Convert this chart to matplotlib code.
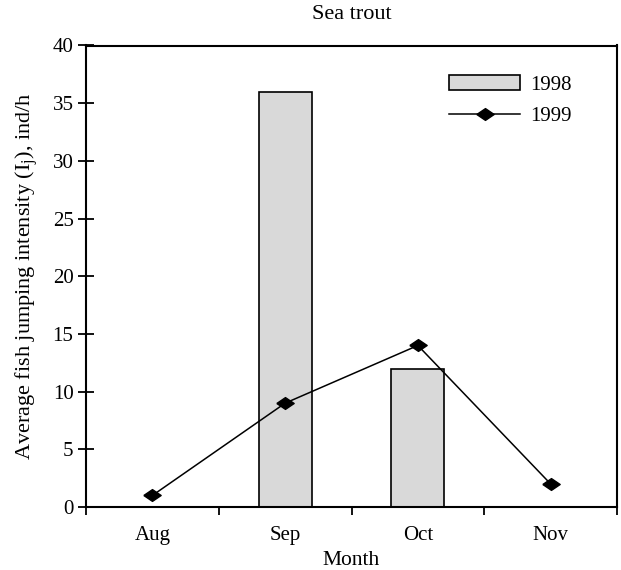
import numpy as np
import matplotlib.pyplot as plt
from matplotlib.ticker import FixedLocator, NullFormatter, FixedFormatter

plt.rcParams['font.family'] = ['Liberation Serif', 'DejaVu Serif']
plt.rcParams['mathtext.fontset'] = 'custom'
plt.rcParams['mathtext.rm'] = 'Liberation Serif'
plt.rcParams['mathtext.it'] = 'Liberation Serif:italic'

# monthly jumping intensity, ind/h
months = ['Aug', 'Sep', 'Oct', 'Nov']
year_1998 = [0, 36, 12, 0]
year_1999 = [1, 9, 14, 2]

x = np.arange(len(months))

# flattened diamond marker
diamond = [(-1, 0), (0, 0.68), (1, 0), (0, -0.68), (-1, 0)]

fig = plt.figure(figsize=(6.21, 5.70), dpi=100)
ax = fig.add_axes([86 / 621, 1 - 507 / 570, 531 / 621, 461.5 / 570])

bars = ax.bar(x, year_1998, width=0.4, color='#d9d9d9', edgecolor='black',
              linewidth=1.2, label='1998', zorder=2)
line, = ax.plot(x, year_1999, color='black', linewidth=1.1, marker=diamond,
                markersize=12.5, markerfacecolor='black',
                markeredgecolor='black', label='1999', zorder=3)

ax.set_xlim(-0.5, len(months) - 0.5)
ax.set_ylim(0, 40)

# ticks between the months, labels at the month centres
ax.xaxis.set_major_locator(FixedLocator(np.arange(-0.5, len(months), 1.0)))
ax.xaxis.set_major_formatter(NullFormatter())
ax.xaxis.set_minor_locator(FixedLocator(x))
ax.xaxis.set_minor_formatter(FixedFormatter(months))
ax.tick_params(axis='x', which='major', direction='out', length=6, width=1.3)
ax.tick_params(axis='x', which='minor', length=0, pad=14, labelsize=15)

ax.set_yticks(np.arange(0, 41, 5))
ax.tick_params(axis='y', direction='inout', length=12, width=1.3, pad=3,
               labelsize=15)

for side in ['top', 'right', 'bottom', 'left']:
    ax.spines[side].set_linewidth(1.5)

ax.set_title('Sea trout', fontsize=16, pad=19)
ax.set_xlabel('Month', fontsize=15.5, labelpad=4)
ax.set_ylabel('Average fish jumping intensity (I$_\\mathrm{j}$), ind/h',
              fontsize=16, labelpad=9)

ax.legend([bars, line], ['1998', '1999'], loc='upper left',
          bbox_to_anchor=(0.684, 0.935), frameon=False, fontsize=15,
          handlelength=3.4, borderpad=0, borderaxespad=0,
          handletextpad=0.5, labelspacing=0.55)

fig.savefig('out.png', dpi=100)
